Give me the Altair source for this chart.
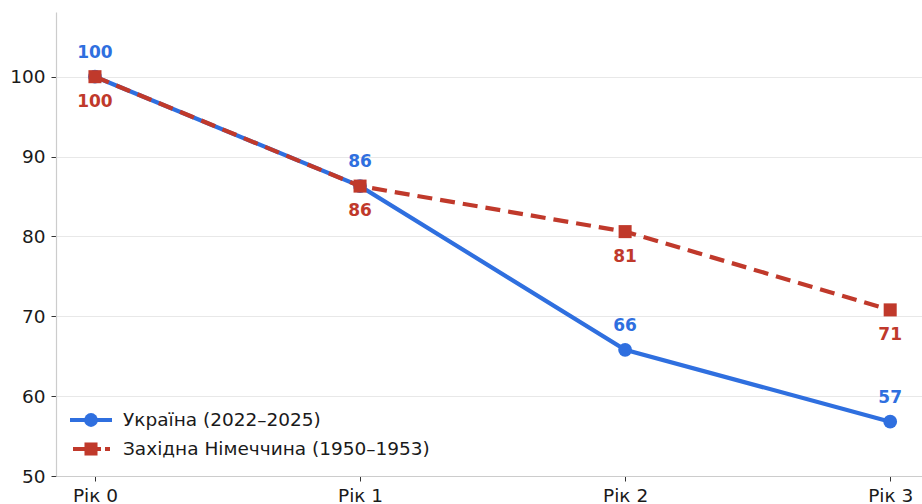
import altair as alt
import pandas as pd

years = ["Рік 0", "Рік 1", "Рік 2", "Рік 3"]
x_idx = [0, 1, 2, 3]
ukraine = [100.0, 86.3, 65.8, 56.8]
germany = [100.0, 86.3, 80.6, 70.8]
series_names = ["Україна (2022–2025)", "Західна Німеччина (1950–1953)"]
colors = ["#2F6FDF", "#C0392B"]

FONT = "DejaVu Sans"

df_u = pd.DataFrame({"x": x_idx, "v": ukraine, "s": series_names[0]})
df_g = pd.DataFrame({"x": x_idx, "v": germany, "s": series_names[1]})

label_expr = "[" + ",".join(f"'{y}'" for y in years) + "][datum.value]"

xs = alt.Scale(domain=[-0.147, 3.12], nice=False, zero=False)
ys = alt.Scale(domain=[50, 108.1], nice=False, zero=False)

x_axis = alt.Axis(values=x_idx, labelExpr=label_expr, grid=False, title=None,
                  domainColor="#cccccc", domainWidth=1.2, tickColor="#333333",
                  tickSize=5, labelFontSize=18.5, labelColor="#1a1a1a",
                  labelFont=FONT, labelPadding=5)
y_axis = alt.Axis(values=[50, 60, 70, 80, 90, 100], grid=True, gridColor="#e8e8e8",
                  gridWidth=1, title=None, domainColor="#cccccc", domainWidth=1.2,
                  tickColor="#333333", tickSize=5, labelFontSize=18.5,
                  labelColor="#1a1a1a", labelFont=FONT, labelPadding=6)

X = alt.X("x:Q", scale=xs, axis=x_axis)
Y = alt.Y("v:Q", scale=ys, axis=y_axis)

base_u = alt.Chart(df_u)
base_g = alt.Chart(df_g)

line_u = base_u.mark_line(color=colors[0], strokeWidth=4.2).encode(x=X, y=Y)
pts_u = base_u.mark_point(shape="circle", filled=True, opacity=1, size=190,
                          color=colors[0]).encode(x=X, y=Y)
txt_u = base_u.mark_text(color=colors[0], fontWeight="bold", fontSize=17, font=FONT,
                         dy=-24).encode(x=X, y=Y, text=alt.Text("v:Q", format=".0f"))

line_g = base_g.mark_line(color=colors[1], strokeWidth=4.2, strokeDash=[15, 8]).encode(x=X, y=Y)
pts_g = base_g.mark_point(shape="square", filled=True, opacity=1, size=170,
                          color=colors[1]).encode(x=X, y=Y)
txt_g = base_g.mark_text(color=colors[1], fontWeight="bold", fontSize=17, font=FONT,
                         dy=25).encode(x=X, y=Y, text=alt.Text("v:Q", format=".0f"))

# manual legend (bottom-left inside the plot)
leg_layers = []
for i, (name, col) in enumerate(zip(series_names, colors)):
    yy = 408 + i * 29
    c = alt.Chart(pd.DataFrame({"s": [name]}))
    if i == 0:
        leg_layers.append(c.mark_rule(color=col, strokeWidth=4.2).encode(
            x=alt.value(14), x2=alt.value(56), y=alt.value(yy)))
        leg_layers.append(c.mark_point(shape="circle", filled=True, opacity=1, size=190,
                                       color=col).encode(x=alt.value(35), y=alt.value(yy)))
    else:
        leg_layers.append(c.mark_rule(color=col, strokeWidth=4.2, strokeDash=[12, 4]).encode(
            x=alt.value(17), x2=alt.value(54), y=alt.value(yy)))
        leg_layers.append(c.mark_point(shape="square", filled=True, opacity=1, size=170,
                                       color=col).encode(x=alt.value(35), y=alt.value(yy)))
    leg_layers.append(c.mark_text(align="left", baseline="middle", fontSize=18.5, font=FONT,
                                  color="#1a1a1a").encode(
        x=alt.value(67), y=alt.value(yy), text="s:N"))

chart = alt.layer(line_u, pts_u, txt_u, line_g, pts_g, txt_g, *leg_layers).properties(
    width=866, height=464,
    autosize=alt.AutoSizeParams(type="none"),
    padding={"left": 56, "top": 12, "right": 0, "bottom": 28},
    background="white",
).configure_view(stroke=None)

chart.save("out.html", embed_options={"renderer": "svg", "actions": False})
